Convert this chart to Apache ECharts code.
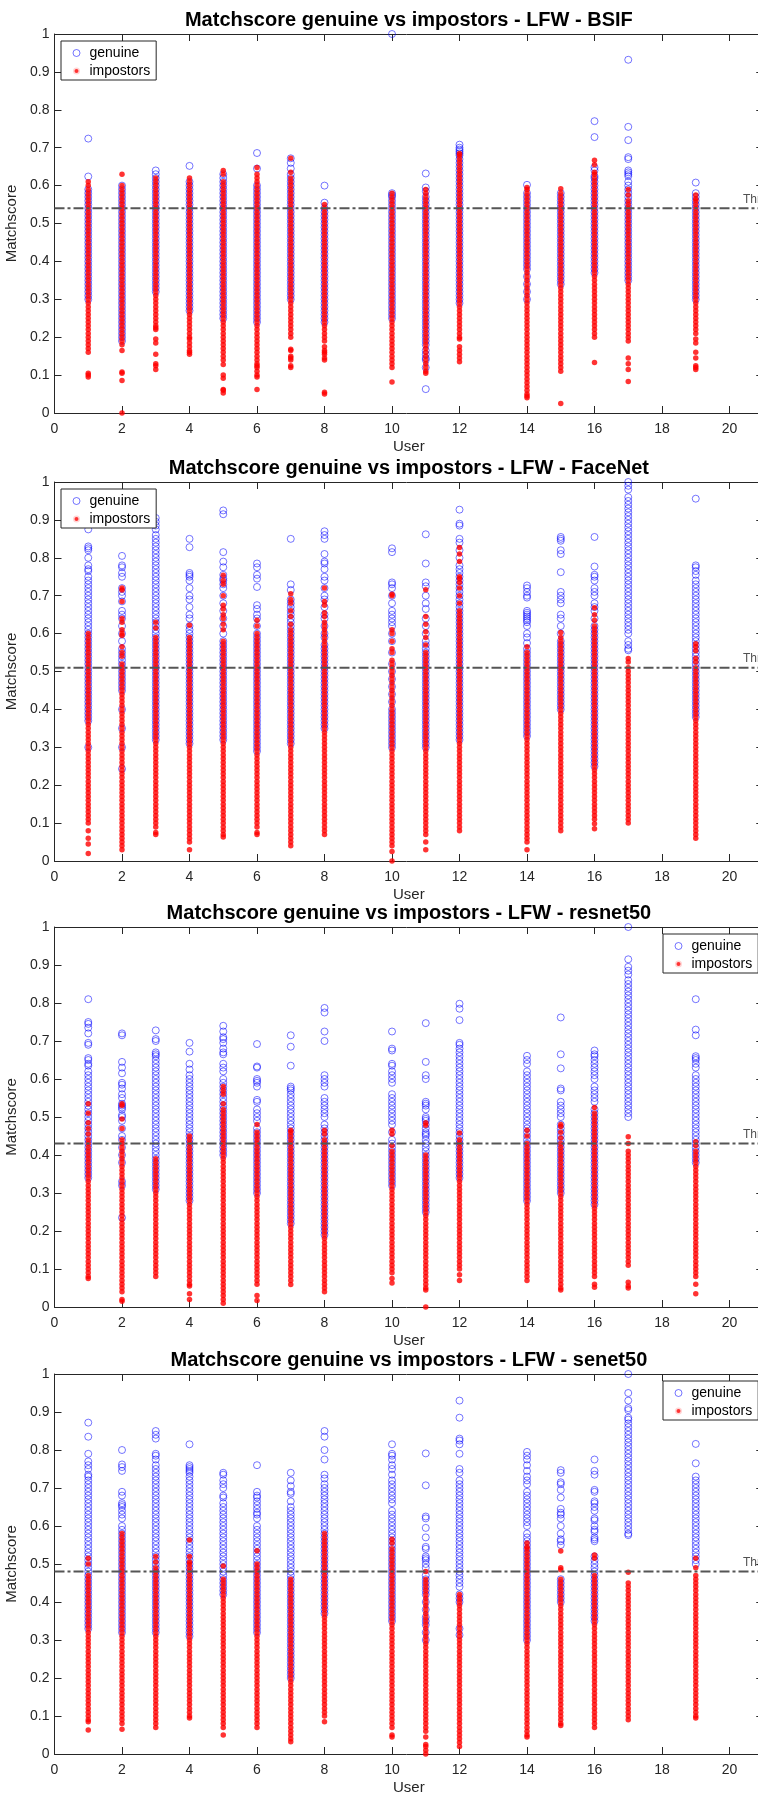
<!DOCTYPE html>
<html>
<head>
<meta charset="utf-8">
<script src="https://cdn.jsdelivr.net/npm/echarts@6/dist/echarts.min.js"></script>
<style>
html,body{margin:0;padding:0;background:#fff;}
#chart{width:758px;height:1796px;}
</style>
</head>
<body>
<div id="chart"></div>
<script>
// Users on the x axis (one column of scores per user)
const users = [1, 2, 3, 4, 5, 6, 7, 8, 10, 11, 12, 14, 15, 16, 17, 19];

const panelTitles = [
  'Matchscore genuine vs impostors - LFW - BSIF',
  'Matchscore genuine vs impostors - LFW - FaceNet',
  'Matchscore genuine vs impostors - LFW - resnet50',
  'Matchscore genuine vs impostors - LFW - senet50'
];
const thresholds = [0.54, 0.51, 0.43, 0.48];

// Match scores in percent, one string per user (same order as `users`)
const bsifGenuine = [
  "30 31 32 33 34 35 36 37 38 39 40 41 42 43 44 45 46 47 48 49 50 51 52 53 54 55 56 57 58 59 62.4 72.4",
  "19 20 21 22 23 24 25 26 27 28 29 30 31 32 33 34 35 36 37 38 39 40 41 42 43 44 45 46 47 48 49 50 51 52 53 54 55 56 57 58 59 60",
  "32 33 34 35 36 37 38 39 40 41 42 43 44 45 46 47 48 49 50 51 52 53 54 55 56 57 58 59 60 61 62 63 64",
  "27 28 29 30 31 32 33 34 35 36 37 38 39 40 41 42 43 44 45 46 47 48 49 50 51 52 53 54 55 56 57 58 59 60 61 65.2",
  "25 26 27 28 29 30 31 32 33 34 35 36 37 38 39 40 41 42 43 44 45 46 47 48 49 50 51 52 53 54 55 56 57 58 59 60 61 62 63",
  "24 25 26 27 28 29 30 31 32 33 34 35 36 37 38 39 40 41 42 43 44 45 46 47 48 49 50 51 52 53 54 55 56 57 58 59 60 64.5 68.6",
  "30 31 32 33 34 35 36 37 38 39 40 41 42 43 44 45 46 47 48 49 50 51 52 53 54 55 56 57 58 59 60 61 62 63 64.5 66 67.2",
  "24 25 26 27 28 29 30 31 32 33 34 35 36 37 38 39 40 41 42 43 44 45 46 47 48 49 50 51 52 53 54 55.5 60",
  "25 26 27 28 29 30 31 32 33 34 35 36 37 38 39 40 41 42 43 44 45 46 47 48 49 50 51 52 53 54 55 56 57 57.5 58 100",
  "6.3 12 14 14.5 15.5 16.5 18 19 20 21 22 23 24 25 26 27 28 29 30 31 32 33 34 35 36 37 38 39 40 41 42 43 44 45 46 47 48 49 50 51 52 53 54 55 56 57 58.5 59.5 63.2",
  "29 30 31 32 33 34 35 36 37 38 39 40 41 42 43 44 45 46 47 48 49 50 51 52 53 54 55 56 57 58 59 60 61 62 63 64 65 66 67 68 68.5 69 69.5 70 70.8",
  "30 32 34 36 38 39 40 41 42 43 44 45 46 47 48 49 50 51 52 53 54 55 56 57 58 60.2",
  "34 35 36 37 38 39 40 41 42 43 44 45 46 47 48 49 50 51 52 53 54 55 56 57 58",
  "37 38 39 40 41 42 43 44 45 46 47 48 49 50 51 52 53 54 55 56 57 58 59 60 61 62 62.5 64 64.8 72.8 77",
  "35 36 37 38 39 40 41 42 43 44 45 46 47 48 49 50 51 52 53 54 55 56 57 58 59 60 61 62.5 63 63.5 64 67 67.5 72 75.5 93.2",
  "30 31 32 33 34 35 36 37 38 39 40 41 42 43 44 45 46 47 48 49 50 51 52 53 54 55 56 57 58 60.8"
];
const bsifImpostors = [
  "9.5 10 10.5 16 17 18 19 20 21 22 23 24 25 26 27 28 29 30 31 32 33 34 35 36 37 38 39 40 41 42 43 44 45 46 47 48 49 50 51 52 53 54 55 56 57 58 59 60 61",
  "0 8.6 10.5 10.8 16.5 18 19 20 21 22 23 24 25 26 27 28 29 30 31 32 33 34 35 36 37 38 39 40 41 42 43 44 45 46 47 48 49 50 51 52 53 54 55 56 57 58 59 60 63",
  "11.5 12.5 13 15.5 18.5 19.5 22 22.5 23 24 25 26 27 28 29 30 31 32 33 34 35 36 37 38 39 40 41 42 43 44 45 46 47 48 49 50 51 52 53 54 55 56 57 58 59 60 61 62",
  "15.5 16 16.5 17.5 18.5 19.5 20 21 22 23 24 25 26 27 28 29 30 31 32 33 34 35 36 37 38 39 40 41 42 43 44 45 46 47 48 49 50 51 52 53 54 55 56 57 58 59 60 61 62",
  "5.3 6 6.2 9.2 10 12.8 14 15 16 17 18 19 20 21 22 23 24 25 26 27 28 29 30 31 32 33 34 35 36 37 38 39 40 41 42 43 44 45 46 47 48 49 50 51 52 53 54 55 56 57 58 59 60 61 63 64",
  "6.2 9.5 10 11 12 12.5 13 14 15 16 17 18 19 20 21 22 23 24 25 26 27 28 29 30 31 32 33 34 35 36 37 38 39 40 41 42 43 44 45 46 47 48 49 50 51 52 53 54 55 56 57 58 59 60 61 62 63 64.8",
  "12 12.5 14 14.5 15 16.5 16.8 20 21 22 23 24 25 26 27 28 29 30 31 32 33 34 35 36 37 38 39 40 41 42 43 44 45 46 47 48 49 50 51 52 53 54 55 56 57 58 59 60 61 62 63.5 67.2",
  "5 5.5 14 14.5 15.5 16 16.5 17.5 19 20 21 22 23 24 25 26 27 28 29 30 31 32 33 34 35 36 37 38 39 40 41 42 43 44 45 46 47 48 49 50 51 52 53 54 55",
  "8.2 12 13 14 15 16 17 18 19 20 21 22 23 24 25 26 27 28 29 30 31 32 33 34 35 36 37 38 39 40 41 42 43 44 45 46 47 48 49 50 51 52 53 54 55 56 57 58",
  "10.5 11 12 13 14 15 16 17 18 19 20 21 22 23 24 25 26 27 28 29 30 31 32 33 34 35 36 37 38 39 40 41 42 43 44 45 46 47 48 49 50 51 52 53 54 55 56 57 58 59",
  "13.5 14.5 15.5 16.5 17.5 19.5 20 21 22 23 24 25 26 27 28 29 30 31 32 33 34 35 36 37 38 39 40 41 42 43 44 45 46 47 48 49 50 51 52 53 54 55 56 57 58 59 60 61 62 63 64 65 66 67 68 68.5",
  "4 4.5 5 6 7 8 9 10 11 12 13 14 15 16 17 18 19 20 21 22 23 24 25 26 27 28 29 30 31 32 33 34 35 36 37 38 39 40 41 42 43 44 45 46 47 48 49 50 51 52 53 54 55 56 57 58 59 59.5",
  "2.5 11 12 13 14 15 16 17 18 19 20 21 22 23 24 25 26 27 28 29 30 31 32 33 34 35 36 37 38 39 40 41 42 43 44 45 46 47 48 49 50 51 52 53 54 55 56 57 58 59.2",
  "13.3 20 21 22 23 24 25 26 27 28 29 30 31 32 33 34 35 36 37 38 39 40 41 42 43 44 45 46 47 48 49 50 51 52 53 54 55 56 57 58 59 60 61 62 63 63.5 65.5 66.7",
  "8.3 11.5 13 14.5 19 20 21 22 23 24 25 26 27 28 29 30 31 32 33 34 35 36 37 38 39 40 41 42 43 44 45 46 47 48 49 50 51 52 53 54 55 56 57.5 59",
  "11.5 12 12.5 14.5 16 18.5 19.5 21 22 23 24 25 26 27 28 29 30 31 32 33 34 35 36 37 38 39 40 41 42 43 44 45 46 47 48 49 50 51 52 53 54 55 56 56.5 57.5"
];

const facenetGenuine = [
  "30 37 38 39 40 41 42 43 44 45 46 47 48 49 50 51 52 53 54 55 56 57 58 59 60 61 62 63 64 65 66 67 68 69 70 71 72 73 74 75 76.5 77 78 80 82 82.5 83 87.5",
  "24.3 30 35 40 45 46 47 48 49 50 51 52 53 54 55 56 58 60 62 64 65 66 68.5 70 71 72 75 76 77.5 78 80.5",
  "32 33 34 35 36 37 38 39 40 41 42 43 44 45 46 47 48 49 50 51 52 53 54 55 56 57 58 59 60 61 62 63 64 65 66 67 68 69 70 71 72 73 74 75 76 77 78 79 80 81 82 83 84 85 86 87.5 88.5 89.5 90.5",
  "31 32 33 34 35 36 37 38 39 40 41 42 43 44 45 46 47 48 49 50 51 52 53 54 55 56 57 58 59 60 61 62 64 65 67 69 70 72 74 75 75.5 76 82.8 85",
  "32 33 34 35 36 37 38 39 40 41 42 43 44 45 46 47 48 49 50 51 52 53 54 55 56 57 58 60 62 64 66 68 70 72 73 74 74.5 75.5 77.5 79 81.5 91.5 92.5",
  "29 30 31 32 33 34 35 36 37 38 39 40 41 42 43 44 45 46 47 48 49 50 51 52 53 54 55 56 57 58 59 60 62 64 65 66.5 67.5 72.3 74.5 75.5 77.5 78.5",
  "31 32 33 34 35 36 37 38 39 40 41 42 43 44 45 46 47 48 49 50 51 52 53 54 55 56 57 58 59 60 61 62 63 64 65 66 67 68 69 71.5 73 85",
  "35 36 37 38 39 40 41 42 43 44 45 46 47 48 49 50 51 52 53 54 55 56 57 59 60 62 64 65 67 69 70 72 74 75 77 78.5 79 81 85 86 87",
  "30 31 32 33 34 35 36 37 38 39 40 42 44 46 48 50 52 55 58 60 62 63 64 65 66 68 70 72 73 73.5 81.5 82.5",
  "30 31 32 33 34 35 36 37 38 39 40 41 42 43 44 45 46 47 48 49 50 51 52 53 54 55 56 57 58 60 62 64 66.5 68 70 72.5 73.5 78.5 86.2",
  "32 33 34 35 36 37 38 39 40 41 42 43 44 45 46 47 48 49 50 51 52 53 54 55 56 57 58 59 60 61 62 63 64 65 66 67 68 69 70 71 72 73 74 75 76 77 78 80 82 84 85 88.5 89 92.7",
  "33 34 35 36 37 38 39 40 41 42 43 44 45 46 47 48 49 50 51 52 53 54 55 56 57.5 59 60 62 63 63.5 64 64.5 65 65.5 66 69.5 70 71 72 72.7",
  "40 41 42 43 44 45 46 47 48 49 50 51 52 53 54 55 56 57 58 60 62 64 65 68 69 70 71 76.2 81 82 84.5 85 85.5",
  "25 26 27 28 29 30 31 32 33 34 35 36 37 38 39 40 41 42 43 44 45 46 47 48 49 50 51 52 53 54 55 56 57 58 59 60 61 62 64 66 67 68 70 71 72 74 75 75.5 77.7 85.5",
  "55.6 56 57 58 60 61 62 63 64 65 66 67 68 69 70 71 72 73 74 75 76 77 78 79 80 81 82 83 84 85 86 87 88 89 90 91 92 93 94 95 96 98 99 100",
  "38 39 40 41 42 43 44 45 46 47 48 49 50 51 52 53 54 55 56 57 58 59 60 61 62 63 64 65 66 67 68 69 70 71 72 73 74 75.5 76.5 77.5 78 95.6"
];
const facenetImpostors = [
  "2 4.5 6 8 10 11 12 13 14 15 16 17 18 19 20 21 22 23 24 25 26 27 28 29 30 31 32 33 34 35 36 37 38 39 40 41 42 43 44 45 46 47 48 49 50 51 52 53 54 55 56 57 58 59 60",
  "3 4 5 6 7 8 9 10 11 12 13 14 15 16 17 18 19 20 21 22 23 24 25 26 27 28 29 30 31 32 33 34 35 36 37 38 39 40 41 42 43 44 45 46 47 48 49 50 51 52 54 55 56.5 59.5 60 61 63 64 68.5 71.5 72",
  "7 7.5 9 10 11 12 13 14 15 16 17 18 19 20 21 22 23 24 25 26 27 28 29 30 31 32 33 34 35 36 37 38 39 40 41 42 43 44 45 46 47 48 49 50 51 52 53 54 55 56 57 58 59 61.5 63",
  "3 5 6 7 8 9 10 11 12 13 14 15 16 17 18 19 20 21 22 23 24 25 26 27 28 29 30 31 32 33 34 35 36 37 38 39 40 41 42 43 44 45 46 47 48 49 50 51 52 53 54 55 56 57 58 59 62.2",
  "6.3 7 8 9 10 11 12 13 14 15 16 17 18 19 20 21 22 23 24 25 26 27 28 29 30 31 32 33 34 35 36 37 38 39 40 41 42 43 44 45 46 47 48 49 50 51 52 53 54 55 56 57 58 61 62.5 64 65 66.5 67.5 70 73 74 75.4",
  "7 7.5 9 10 11 12 13 14 15 16 17 18 19 20 21 22 23 24 25 26 27 28 29 30 31 32 33 34 35 36 37 38 39 40 41 42 43 44 45 46 47 48 49 50 51 52 53 54 55 56 57 58 59 60 62 63.5",
  "4 5 6 7 8 9 10 11 12 13 14 15 16 17 18 19 20 21 22 23 24 25 26 27 28 29 30 31 32 33 34 35 36 37 38 39 40 41 42 43 44 45 46 47 48 49 50 51 52 53 54 55 56 57 58 59 60 61 62.5 64.5 66 68 69 70.5",
  "7 8 9 10 11 12 13 14 15 16 17 18 19 20 21 22 23 24 25 26 27 28 29 30 31 32 33 34 35 36 37 38 39 40 41 42 43 44 45 46 47 48 49 50 51 52 53 54 55 56 57 58 59 60 61 62 63 64.5 65.5 67.5 68.5 72",
  "0 2.5 4 5 6 7 8 9 10 11 12 13 14 15 16 17 18 19 20 21 22 23 24 25 26 27 28 29 30 31 32 33 34 35 36 37 38 39 40 41 42 43 44 45 46 47 48 49 50 51 52 53 55 56 58 60 61 70 70.4",
  "3 5 7 8 9 10 11 12 13 14 15 16 17 18 19 20 21 22 23 24 25 26 27 28 29 30 31 32 33 34 35 36 37 38 39 40 41 42 43 44 45 46 47 48 49 50 51 52 53 54 55 57 59 60.5 62.5 64.5 71.6",
  "8 9 10 11 12 13 14 15 16 17 18 19 20 21 22 23 24 25 26 27 28 29 30 31 32 33 34 35 36 37 38 39 40 41 42 43 44 45 46 47 48 49 50 51 52 53 54 55 56 57 58 59 60 61 62 63 64 65 66 68 70 72 73.5 74.5 75 79 81 82.7",
  "3 5 6 7 8 9 10 11 12 13 14 15 16 17 18 19 20 21 22 23 24 25 26 27 28 29 30 31 32 33 34 35 36 37 38 39 40 41 42 43 44 45 46 47 48 49 50 51 52 53 54 55 56.5",
  "8 9 10 11 12 13 14 15 16 17 18 19 20 21 22 23 24 25 26 27 28 29 30 31 32 33 34 35 36 37 38 39 40 41 42 43 44 45 46 47 48 49 50 51 52 53 54 55 56 57 58 59 60.3",
  "8.5 9.8 11 12 13 14 15 16 17 18 19 20 21 22 23 24 25 26 27 28 29 30 31 32 33 34 35 36 37 38 39 40 41 42 43 44 45 46 47 48 49 50 51 52 53 54 55 56 57 58 59 60 61 62 63.5 65 66.8",
  "10 11 12 13 14 15 16 17 18 19 20 21 22 23 24 25 26 27 28 29 30 31 32 33 34 35 36 37 38 39 40 41 42 43 44 45 46 47 48 49 50 51 52.5 53.4",
  "6 7 8 9 10 11 12 13 14 15 16 17 18 19 20 21 22 23 24 25 26 27 28 29 30 31 32 33 34 35 36 37 38 39 40 41 42 43 44 45 46 47 48 49 50 51 52.5 53.5 55.5 56.5 57.3"
];

const resnetGenuine = [
  "34 35 36 37 38 39 40 41 42 43 44 45 46 47 48 49 50 51 52 53 54 55 56 57 58 59 60 61 62 63.5 64 65 65.5 69 69.5 72 73.5 74.5 75 81",
  "23.5 32 33 38 40 42 44 45 47 49 50 50.5 52 52.5 53 53.5 55 56 57.5 58.5 59 61.5 63 64.5 71.5 72",
  "31 32 33 34 35 36 37 38 39 40 41 42 43 44 45 46 47 48 49 50 51 52 53 54 55 56 57 58 59 60 61 62 63 64 65 66 66.5 67 70 70.5 72.8",
  "28 29 30 31 32 33 34 35 36 37 38 39 40 41 42 43 44 45 46 47 48 49 50 51 52 53 54 55 56 57 58 59 60 61 62.5 64 67.2 69.5",
  "40 41 42 43 44 45 46 47 48 49 50 51 52 53 54 55 56 57 58 59 60 62 63 64 66.5 67 68 69.5 70.5 71 72.5 74",
  "30 31 32 33 34 35 36 37 38 39 40 41 42 43 44 45 46 47 49 50 51 52 54 54.5 58 59 59.5 60 63 63.3 69.2",
  "22 23 24 25 26 27 28 29 30 31 32 33 34 35 36 37 38 39 40 41 42 43 44 45 46 47 48 49 50 51 52 53 54 55 56 57 57.5 58 63.5 68.5 71.5",
  "19 20 21 22 23 24 25 26 27 28 29 30 31 32 33 34 35 36 37 38 39 40 41 42 43 44 45 46 47 48 50 51 52 53 54 55 58 59 60 61 70 72.5 77.5 78.7",
  "32 33 34 35 36 37 38 39 40 41 42 43 44 46 48 49 50 51 52 53 54 55 56 59 60 61 62 63.5 64 67.5 68 72.5",
  "25 26 27 28 29 30 31 32 33 34 35 36 37 38 39 40 41 42 43 44 45 45.5 46 47 48 49 49.5 50 52 53 53.5 54 60 61 64.5 74.7",
  "34 35 36 37 38 39 40 41 42 43 44 45 46 47 48 49 50 51 52 53 54 55 56 57 58 59 60 61 62 63 64 65 66 67 68 69 69.5 75.5 78.5 79.8",
  "28 29 30 31 32 33 34 35 36 37 38 39 40 41 42 43 44 45 46 47 48 49 50 51 52 53 54 55 56 57 58 59 60 61 62 64 65 66.1",
  "30 31 32 33 34 35 36 37 38 39 40 41 42 43 44 45 46 47 48 50 51 52 53 54 57 57.5 62.8 66.5 76.2",
  "27 28 29 30 31 32 33 34 35 36 37 38 39 40 41 42 43 44 45 46 47 48 49 50 51 52 54 55 56 57 58 60 61 62 63 64 65 66 66.5 67.5",
  "50 51 52 53 54 55 56 57 58 59 60 61 62 63 64 65 66 67 68 69 70 71 72 73 74 75 76 77 78 79 80 81 82 83 84 85 86 87.5 88.5 89.5 91.5 100",
  "38 39 40 41 42 43 44 45 46 47 48 49 50 51 52 53 54 55 56 57 58 59 60 61 63 64 65 65.5 66 71.5 73 81"
];
const resnetImpostors = [
  "7.5 8 9 10 11 12 13 14 15 16 17 18 19 20 21 22 23 24 25 26 27 28 29 30 31 32 33 34 35 36 37 38 39 40 41 42 43 44 45.5 47 48.5 51 53.5",
  "1.5 2 4 5 6 7 8 9 10 11 12 13 14 15 16 17 18 19 20 21 22 23 24 25 26 27 28 29 30 31 32 33 34 35 36 37 38 39 40 41 42 43 44 47 49.5 53 53.5",
  "8 9 10 11 12 13 14 15 16 17 18 19 20 21 22 23 24 25 26 27 28 29 30 31 32 33 34 35 36 37 38 39",
  "2 3.5 5.5 6 7 8 9 10 11 12 13 14 15 16 17 18 19 20 21 22 23 24 25 26 27 28 29 30 31 32 33 34 35 36 37 38 39 40 41 42 43 44 45",
  "1 2 3 4 5 6 7 8 9 10 11 12 13 14 15 16 17 18 19 20 21 22 23 24 25 26 27 28 29 30 31 32 33 34 35 36 37 38 39 40 41 42 43 44 45 46 47 48 49 50 51 52 53.5 56 57 58",
  "1.7 3 6 7 8 9 10 11 12 13 14 15 16 17 18 19 20 21 22 23 24 25 26 27 28 29 30 31 32 33 34 35 36 37 38 39 40 41 42 43 44 45 46 48",
  "5.9 7 8 9 10 11 12 13 14 15 16 17 18 19 20 21 22 23 24 25 26 27 28 29 30 31 32 33 34 35 36 37 38 39 40 41 42 43 44 45 46 46.5",
  "4 5 6 7 8 9 10 11 12 13 14 15 16 17 18 19 20 21 22 23 24 25 26 27 28 29 30 31 32 33 34 35 36 37 38 39 40 41 42 43 44 45.5 46.5",
  "6.3 7.5 9 10 11 12 13 14 15 16 17 18 19 20 21 22 23 24 25 26 27 28 29 30 31 32 33 34 35 36 37 38 39 40 41 42.5 45.5 46.5",
  "0 4.5 5 6 7 8 9 10 11 12 13 14 15 16 17 18 19 20 21 22 23 24 25 26 27 28 29 30 31 32 33 34 35 36 37 38 39 40 47.8 48.5",
  "7 8.5 10 11 12 13 14 15 16 17 18 19 20 21 22 23 24 25 26 27 28 29 30 31 32 33 34 35 36 37 38 39 40 41 42 43 44 45.8",
  "7 8 9 10 11 12 13 14 15 16 17 18 19 20 21 22 23 24 25 26 27 28 29 30 31 32 33 34 35 36 37 38 39 40 41 42 43 45 46.5",
  "4.5 5 6 7 8 9 10 11 12 13 14 15 16 17 18 19 20 21 22 23 24 25 26 27 28 29 30 31 32 33 34 35 36 37 38 39 40 41 42 43 44.5 46 47.5 48",
  "5.2 6 8 9 10 11 12 13 14 15 16 17 18 19 20 21 22 23 24 25 26 27 28 29 30 31 32 33 34 35 36 37 38 39 40 41 42 43 44 45 46 47 48 49 50 51 52.5",
  "5 5.5 6.5 11 12 13 14 15 16 17 18 19 20 21 22 23 24 25 26 27 28 29 30 31 32 33 34 35 36 37 38 39 40 41 43 44.8",
  "3.5 6 8 9 10 11 12 13 14 15 16 17 18 19 20 21 22 23 24 25 26 27 28 29 30 31 32 33 34 35 36 37 38 39 40 41 42.5 43.5"
];

const senetGenuine = [
  "33 34 35 36 37 38 39 40 41 42 43 44 45 46 47 48 49 50 51 52 53 54 55 56 57 58 59 60 61 62 63 64 65 66 67 68 69 70 71 72 73 73.5 75 76 77 79 83.5 87.2",
  "32 33 34 35 36 37 38 39 40 41 42 43 44 45 46 47 48 49 50 51 52 53 54 55 56 57 58 59 60 62 63 64 65 65.5 66 68 69 74.5 75.5 76.2 80",
  "32 33 34 35 36 37 38 39 40 41 42 43 44 45 46 47 48 49 50 51 52 53 54 55 56 57 58 59 60 61 62 63 64 65 66 67 68 69 70 71 72 73 74 75 76 77.5 78.5 79 83 84 85",
  "31 32 33 34 35 36 37 38 39 40 41 42 43 44 45 46 47 48 49 50 51 52 53 54 55 56 57 58 59 60 61 62 63 64 65 66 67 68 69 70 71 72 73 74 74.5 75 75.5 76 81.5",
  "42 43 44 45 46 47 48 49 50 51 52 53 54 55 56 57 58 59 60 61 62 63 64 65 66 67.5 68 70 71 72 73.5 74",
  "32 33 34 35 36 37 38 39 40 41 42 43 44 45 46 47 48 49 50 51 52 53 54 55 56 57 58 59 60 62 63 63.5 64.5 65.5 66.5 67.5 68 69 76",
  "20 21 22 23 24 25 26 27 28 29 30 31 32 33 34 35 36 37 38 39 40 41 42 43 44 45 46 47 48 49 50 51 52 53 54 55 56 57 58 59 60 61 62 63 64 65 66.5 68.5 69 70.5 72 74",
  "37 38 39 40 41 42 43 44 45 46 47 48 49 50 51 52 53 54 55 56 57 58 59 60 61 62 63 64 65 66 67 68 69 70 71 72.5 73.5 77.5 80 83.5 85",
  "35 36 37 38 39 40 41 42 43 44 45 46 47 48 49 50 51 52 53 54 55 56 57 58 59 60 61 62 63 64 66 67 68 69 70 71 72 73.5 75 76 77.5 78.5 79 81.5",
  "30 32 34 35 36 38 40 42 43 44 45 46 47 49 50 51 51.5 52 54 54.5 57 59.5 62 62.5 70.7 79.1",
  "31.3 33 40 41 42 44 45 46 47 48 49 50 51 52 53 54 55 56 57 58 59 60 61 62 63 64 65 66 67 68 69 70 71 72 74 75 79 81.5 82.5 83 88.5 93",
  "30 31 32 33 34 35 36 37 38 39 40 41 42 43 44 45 46 47 48 49 50 51 52 53 54 55 56 57 58 60 61 62 63 64 65 66 67 68 69 71 72 73 74.5 76 77.5 78.5 79.5",
  "40 41 42 43 44 45 46 55 56 56.5 58 60 62 63 63.5 64.5 67.5 69.5 71 71.5 74 74.7",
  "35 36 37 38 39 40 41 42 43 44 45 46 47 48 49 50 51 52 56 56.5 57 58.5 59 60 61.5 62 64 65 66 66.5 69 69.5 73.5 74.5 77.5",
  "57.6 58 59 60 61 62 63 64 65 66 67 68 69 70 71 72 73 74 75 76 77 78 79 80 81 82 83 84 85 86 87 88 88.5 90.5 91 93 95 100",
  "50 51 52 53 54 55 56 57 58 59 60 61 62 63 64 65 66 67 68 69 70 71 72 73 76.5 81.6"
];
const senetImpostors = [
  "6.3 8.5 9 10 11 12 13 14 15 16 17 18 19 20 21 22 23 24 25 26 27 28 29 30 31 32 33 34 35 36 37 38 39 40 41 42 43 44 45 46 47 50 51.5",
  "6.5 8 9 10 11 12 13 14 15 16 17 18 19 20 21 22 23 24 25 26 27 28 29 30 31 32 33 34 35 36 37 38 39 40 41 42 43 44 45 46 47 48 49 50 51 52 53 54 55 56 57 58",
  "7 8 9 10 11 12 13 14 15 16 17 18 19 20 21 22 23 24 25 26 27 28 29 30 31 32 33 34 35 36 37 38 39 40 41 42 43 44 45 46 47 48 49 50.5 52",
  "9.5 10 11 12 13 14 15 16 17 18 19 20 21 22 23 24 25 26 27 28 29 30 31 32 33 34 35 36 37 38 39 40 41 42 43 44 45 46 47 48 49 50 50.5 52 56.3",
  "5 7 8 9 10 11 12 13 14 15 16 17 18 19 20 21 22 23 24 25 26 27 28 29 30 31 32 33 34 35 36 37 38 39 40 41 42 43 44 45 46 49.5",
  "7 8 9 10 11 12 13 14 15 16 17 18 19 20 21 22 23 24 25 26 27 28 29 30 31 32 33 34 35 36 37 38 39 40 41 42 43 44 45 46 47 48 49 50 53.5",
  "3.2 4 5 6 7 8 9 10 11 12 13 14 15 16 17 18 19 20 21 22 23 24 25 26 27 28 29 30 31 32 33 34 35 36 37 38 39 40 41 42 43 44 45 46",
  "8.5 10 11 12 13 14 15 16 17 18 19 20 21 22 23 24 25 26 27 28 29 30 31 32 33 34 35 36 37 38 39 40 41 42 43 44 45 46 47 48 49 50 51 52 53 54 55 56 57 58",
  "4.5 5 7 8 9 10 11 12 13 14 15 16 17 18 19 20 21 22 23 24 25 26 27 28 29 30 31 32 33 34 35 36 37 38 39 40 41 42 43 44 45 46 47 48 49 50 51 52 53 54 55.5 56.5",
  "0 1 2 2.5 4.5 6 7 8 9 10 11 12 13 14 15 16 17 18 19 20 21 22 23 24 25 26 27 28 29 30 31 32 33 34 35 36 37 38 39 40 41 42 43 44 45 46 48",
  "2 3 4 5 6 7 8 9 10 11 12 13 14 15 16 17 18 19 20 21 22 23 24 25 26 27 28 29 30 31 32 33 34 35 36 37 38 39 40 41 42",
  "4.5 5 6 7 8 9 10 11 12 13 14 15 16 17 18 19 20 21 22 23 24 25 26 27 28 29 30 31 32 33 34 35 36 37 38 39 40 41 42 43 44 45 46 47 48 49 50 51 52 53 54 54.5 55.5",
  "7.5 8 9 10 11 12 13 14 15 16 17 18 19 20 21 22 23 24 25 26 27 28 29 30 31 32 33 34 35 36 37 38 39 40 41 42 43 44 45 46 48.5 49 53.4",
  "7 8 9 10 11 12 13 14 15 16 17 18 19 20 21 22 23 24 25 26 27 28 29 30 31 32 33 34 35 36 37 38 39 40 41 42 43 44 45 46 47 51.5 52.4",
  "9 10 11 12 13 14 15 16 17 18 19 20 21 22 23 24 25 26 27 28 29 30 31 32 33 34 35 36 37 38 39 40 41 42 43 44 45 47.8",
  "9.5 10 11 12 13 14 15 16 17 18 19 20 21 22 23 24 25 26 27 28 29 30 31 32 33 34 35 36 37 38 39 40 41 42 43 44 45 46 47 49 51.5"
];

const panels = [
  { genuine: bsifGenuine, impostors: bsifImpostors },
  { genuine: facenetGenuine, impostors: facenetImpostors },
  { genuine: resnetGenuine, impostors: resnetImpostors },
  { genuine: senetGenuine, impostors: senetImpostors }
];

// ---- layout ----
const FONT = '"Liberation Sans", Arial, Helvetica, sans-serif';
const AXIS_COLOR = '#262626';
const PLOT_LEFT = 54.5;
const PLOT_WIDTH = 708.75;
const PLOT_TOPS = [34, 482, 927, 1374];
const PLOT_HEIGHTS = [379, 379, 380, 380];
const LEGEND_LEFT = [61, 61, 663, 663];
const GENUINE_STROKE = 'rgba(0,0,255,0.68)';
const IMPOSTOR_FILL = '#ff0000';

// Turn the per-user percent strings into [user, score] pairs
function toPoints(columns) {
  const pts = [];
  columns.forEach((col, i) => {
    col.trim().split(/\s+/).forEach(v => pts.push([users[i], parseFloat(v) / 100]));
  });
  return pts;
}

const grid = [], xAxis = [], yAxis = [], series = [], legend = [], graphic = [];

panels.forEach((p, i) => {
  grid.push({
    left: PLOT_LEFT, top: PLOT_TOPS[i], width: PLOT_WIDTH, height: PLOT_HEIGHTS[i],
    show: false, containLabel: false, outerBoundsMode: 'none'
  });

  const axisLine = { show: true, onZero: false, lineStyle: { color: AXIS_COLOR, width: 1 } };
  const axisTick = { show: true, inside: true, length: 7, lineStyle: { color: AXIS_COLOR, width: 1 } };

  xAxis.push({
    type: 'value', gridIndex: i, position: 'bottom', min: 0, max: 21, interval: 2,
    axisLine, axisTick, splitLine: { show: false }, minorTick: { show: false },
    axisLabel: { color: AXIS_COLOR, fontSize: 14, fontFamily: FONT, margin: 9, showMaxLabel: false },
    name: 'User', nameLocation: 'middle', nameGap: 26,
    nameTextStyle: { color: AXIS_COLOR, fontSize: 15, fontFamily: FONT }
  });
  xAxis.push({
    type: 'value', gridIndex: i, position: 'top', min: 0, max: 21, interval: 2,
    axisLine, axisTick, splitLine: { show: false }, axisLabel: { show: false }
  });
  yAxis.push({
    type: 'value', gridIndex: i, position: 'left', min: 0, max: 1, interval: 0.1,
    axisLine, axisTick, splitLine: { show: false },
    axisLabel: { color: AXIS_COLOR, fontSize: 14, fontFamily: FONT, margin: 5 },
    name: 'Matchscore', nameLocation: 'middle', nameGap: 28,
    nameTextStyle: { color: AXIS_COLOR, fontSize: 15, fontFamily: FONT }
  });
  yAxis.push({
    type: 'value', gridIndex: i, position: 'right', min: 0, max: 1, interval: 0.1,
    axisLine, axisTick, splitLine: { show: false }, axisLabel: { show: false }
  });

  const xi = 2 * i, yi = 2 * i;
  series.push({
    name: 'genuine', type: 'scatter', xAxisIndex: xi, yAxisIndex: yi,
    symbol: 'circle', symbolSize: 7, silent: true,
    itemStyle: { color: 'rgba(0,0,0,0)', borderColor: GENUINE_STROKE, borderWidth: 1 },
    data: toPoints(p.genuine), z: 2
  });
  series.push({
    name: 'impostors', type: 'scatter', xAxisIndex: xi, yAxisIndex: yi,
    symbol: 'circle', symbolSize: 5.5, silent: true,
    itemStyle: { color: IMPOSTOR_FILL },
    data: toPoints(p.impostors), z: 3
  });
  // threshold line across the whole axis
  series.push({
    name: 'threshold', type: 'line', xAxisIndex: xi, yAxisIndex: yi,
    data: [[0, thresholds[i]], [21, thresholds[i]]],
    symbol: 'none', silent: true, z: 4,
    lineStyle: { color: '#555555', width: 2, type: [10, 3, 3, 3] }
  });
  // threshold text label
  series.push({
    name: 'thresholdLabel', type: 'scatter', xAxisIndex: xi, yAxisIndex: yi,
    data: [[20.4, thresholds[i]]], symbolSize: 0, silent: true, z: 5,
    label: { show: true, formatter: 'Threshold', position: 'right', distance: 0, offset: [0, -9],
             color: AXIS_COLOR, fontSize: 12, fontFamily: FONT }
  });

  legend.push({
    orient: 'vertical', left: LEGEND_LEFT[i], top: PLOT_TOPS[i] + 7,
    itemWidth: 7, itemHeight: 7, itemGap: 4,
    padding: [5, 6, 2, 10.5],
    backgroundColor: '#fff', borderColor: AXIS_COLOR, borderWidth: 1, borderRadius: 0,
    selectedMode: false,
    textStyle: { fontSize: 14, color: '#000', fontFamily: FONT, padding: [0, 0, 0, 4.5], lineHeight: 14 },
    data: [
      { name: 'genuine', icon: 'circle', itemStyle: { color: 'rgba(0,0,0,0)', borderColor: GENUINE_STROKE, borderWidth: 1 } },
      { name: 'impostors', icon: 'circle', itemStyle: { color: IMPOSTOR_FILL, borderColor: '#fff', borderWidth: 3 } }
    ]
  });

  graphic.push({
    type: 'text', x: PLOT_LEFT + PLOT_WIDTH / 2, y: PLOT_TOPS[i] - 14, silent: true,
    style: { text: panelTitles[i], font: 'bold 20px ' + FONT, fill: '#000', align: 'center', verticalAlign: 'middle' }
  });
});

const chart = echarts.init(document.getElementById('chart'), null, { renderer: 'canvas' });
chart.setOption({
  animation: false,
  backgroundColor: '#fff',
  textStyle: { fontFamily: FONT },
  grid, xAxis, yAxis, series, legend, graphic,
  tooltip: { show: false }
});
</script>
</body>
</html>
